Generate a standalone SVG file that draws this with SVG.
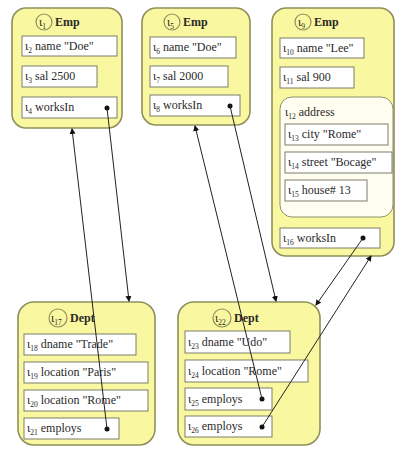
<svg xmlns="http://www.w3.org/2000/svg" width="396" height="449" viewBox="0 0 396 449">
<defs>
<style>
.node{fill:#f9f8a0;stroke:#8f8f5c;stroke-width:1.6}
.fld{fill:#ffffff;stroke:#7c7c6a;stroke-width:1}
.sub{fill:#fffef0;stroke:#8f8f6c;stroke-width:1}
.hc{fill:#f9f8a0;stroke:#8f8f5c;stroke-width:1.2}
text{font-family:"Liberation Serif","DejaVu Serif",serif;font-size:12px;fill:#2a2a2a}
.b{font-weight:bold}
.s{font-size:7.5px}
.dot{fill:#111}
.con{stroke:#222;stroke-width:1;fill:none;marker-end:url(#ah)}
</style>
<marker id="ah" markerWidth="6" markerHeight="6" refX="5" refY="3" orient="auto" markerUnits="userSpaceOnUse">
<path d="M0,0 L6,3 L0,6 Z" fill="#111"/>
</marker>
</defs>

<g id="emp1">
<rect class="node" x="12" y="8" width="110" height="120" rx="14"/>
<circle class="hc" cx="44" cy="22" r="8"/>
<text x="39" y="26">ι<tspan class="s" dy="3">1</tspan></text>
<text class="b" x="55" y="26">Emp</text>
<rect class="fld" x="22" y="36" width="95" height="20"/>
<text x="25" y="50">ι<tspan class="s" dy="3">2</tspan><tspan dy="-3"> name "Doe"</tspan></text>
<rect class="fld" x="22" y="66" width="75" height="21"/>
<text x="25" y="80">ι<tspan class="s" dy="3">3</tspan><tspan dy="-3"> sal 2500</tspan></text>
<rect class="fld" x="22" y="97" width="95" height="21"/>
<text x="25" y="111">ι<tspan class="s" dy="3">4</tspan><tspan dy="-3"> worksIn</tspan></text>
<circle class="dot" cx="107" cy="108" r="2.5"/>
</g>

<g id="emp2">
<rect class="node" x="142" y="8" width="108" height="117" rx="14"/>
<circle class="hc" cx="172" cy="22" r="8"/>
<text x="167" y="26">ι<tspan class="s" dy="3">5</tspan></text>
<text class="b" x="183" y="26">Emp</text>
<rect class="fld" x="150" y="37" width="86" height="21"/>
<text x="153" y="51">ι<tspan class="s" dy="3">6</tspan><tspan dy="-3"> name "Doe"</tspan></text>
<rect class="fld" x="150" y="66" width="78" height="21"/>
<text x="153" y="80">ι<tspan class="s" dy="3">7</tspan><tspan dy="-3"> sal 2000</tspan></text>
<rect class="fld" x="150" y="95" width="90" height="21"/>
<text x="153" y="109">ι<tspan class="s" dy="3">8</tspan><tspan dy="-3"> worksIn</tspan></text>
<circle class="dot" cx="230" cy="106" r="2.5"/>
</g>

<g id="emp3">
<rect class="node" x="272" y="8" width="122" height="248" rx="14"/>
<circle class="hc" cx="303" cy="22" r="8"/>
<text x="298" y="26">ι<tspan class="s" dy="3">9</tspan></text>
<text class="b" x="314" y="26">Emp</text>
<rect class="fld" x="280" y="38" width="84" height="20"/>
<text x="283" y="52">ι<tspan class="s" dy="3">10</tspan><tspan dy="-3"> name "Lee"</tspan></text>
<rect class="fld" x="280" y="67" width="74" height="21"/>
<text x="283" y="81">ι<tspan class="s" dy="3">11</tspan><tspan dy="-3"> sal 900</tspan></text>
<rect class="sub" x="280" y="97" width="113" height="120" rx="12"/>
<text x="285" y="116">ι<tspan class="s" dy="3">12</tspan><tspan dy="-3"> address</tspan></text>
<rect class="fld" x="285" y="124" width="103" height="21"/>
<text x="288" y="138">ι<tspan class="s" dy="3">13</tspan><tspan dy="-3"> city "Rome"</tspan></text>
<rect class="fld" x="285" y="152" width="107" height="21"/>
<text x="288" y="166">ι<tspan class="s" dy="3">14</tspan><tspan dy="-3"> street "Bocage"</tspan></text>
<rect class="fld" x="285" y="180" width="82" height="21"/>
<text x="288" y="194">ι<tspan class="s" dy="3">15</tspan><tspan dy="-3"> house# 13</tspan></text>
<rect class="fld" x="280" y="228" width="100" height="20"/>
<text x="283" y="242">ι<tspan class="s" dy="3">16</tspan><tspan dy="-3"> worksIn</tspan></text>
<circle class="dot" cx="363" cy="238" r="2.5"/>
</g>

<g id="dept1">
<rect class="node" x="18" y="302" width="137" height="143" rx="16"/>
<circle class="hc" cx="58" cy="318" r="9"/>
<text x="51" y="322">ι<tspan class="s" dy="3">17</tspan></text>
<text class="b" x="70" y="322">Dept</text>
<rect class="fld" x="24" y="334" width="112" height="21"/>
<text x="27" y="348">ι<tspan class="s" dy="3">18</tspan><tspan dy="-3"> dname "Trade"</tspan></text>
<rect class="fld" x="24" y="362" width="124" height="21"/>
<text x="27" y="376">ι<tspan class="s" dy="3">19</tspan><tspan dy="-3"> location "Paris"</tspan></text>
<rect class="fld" x="24" y="390" width="124" height="21"/>
<text x="27" y="404">ι<tspan class="s" dy="3">20</tspan><tspan dy="-3"> location "Rome"</tspan></text>
<rect class="fld" x="24" y="418" width="95" height="21"/>
<text x="27" y="432">ι<tspan class="s" dy="3">21</tspan><tspan dy="-3"> employs</tspan></text>
<circle class="dot" cx="107" cy="429" r="2.5"/>
</g>

<g id="dept2">
<rect class="node" x="178" y="302" width="142" height="143" rx="16"/>
<circle class="hc" cx="222" cy="318" r="9"/>
<text x="215" y="322">ι<tspan class="s" dy="3">22</tspan></text>
<text class="b" x="234" y="322">Dept</text>
<rect class="fld" x="185" y="331" width="105" height="22"/>
<text x="188" y="346">ι<tspan class="s" dy="3">23</tspan><tspan dy="-3"> dname "Udo"</tspan></text>
<rect class="fld" x="185" y="360" width="123" height="22"/>
<text x="188" y="375">ι<tspan class="s" dy="3">24</tspan><tspan dy="-3"> location "Rome"</tspan></text>
<rect class="fld" x="185" y="388" width="87" height="22"/>
<text x="188" y="403">ι<tspan class="s" dy="3">25</tspan><tspan dy="-3"> employs</tspan></text>
<circle class="dot" cx="262" cy="399" r="2.5"/>
<rect class="fld" x="185" y="416" width="87" height="21"/>
<text x="188" y="430">ι<tspan class="s" dy="3">26</tspan><tspan dy="-3"> employs</tspan></text>
<circle class="dot" cx="262" cy="427" r="2.5"/>
</g>

<g id="connectors">
<line class="con" x1="107" y1="108" x2="129" y2="301"/>
<line class="con" x1="107" y1="429" x2="72" y2="129"/>
<line class="con" x1="230" y1="106" x2="276" y2="301"/>
<line class="con" x1="262" y1="399" x2="195" y2="126"/>
<line class="con" x1="363" y1="238" x2="316" y2="305"/>
<line class="con" x1="262" y1="427" x2="371" y2="256"/>
</g>
</svg>
